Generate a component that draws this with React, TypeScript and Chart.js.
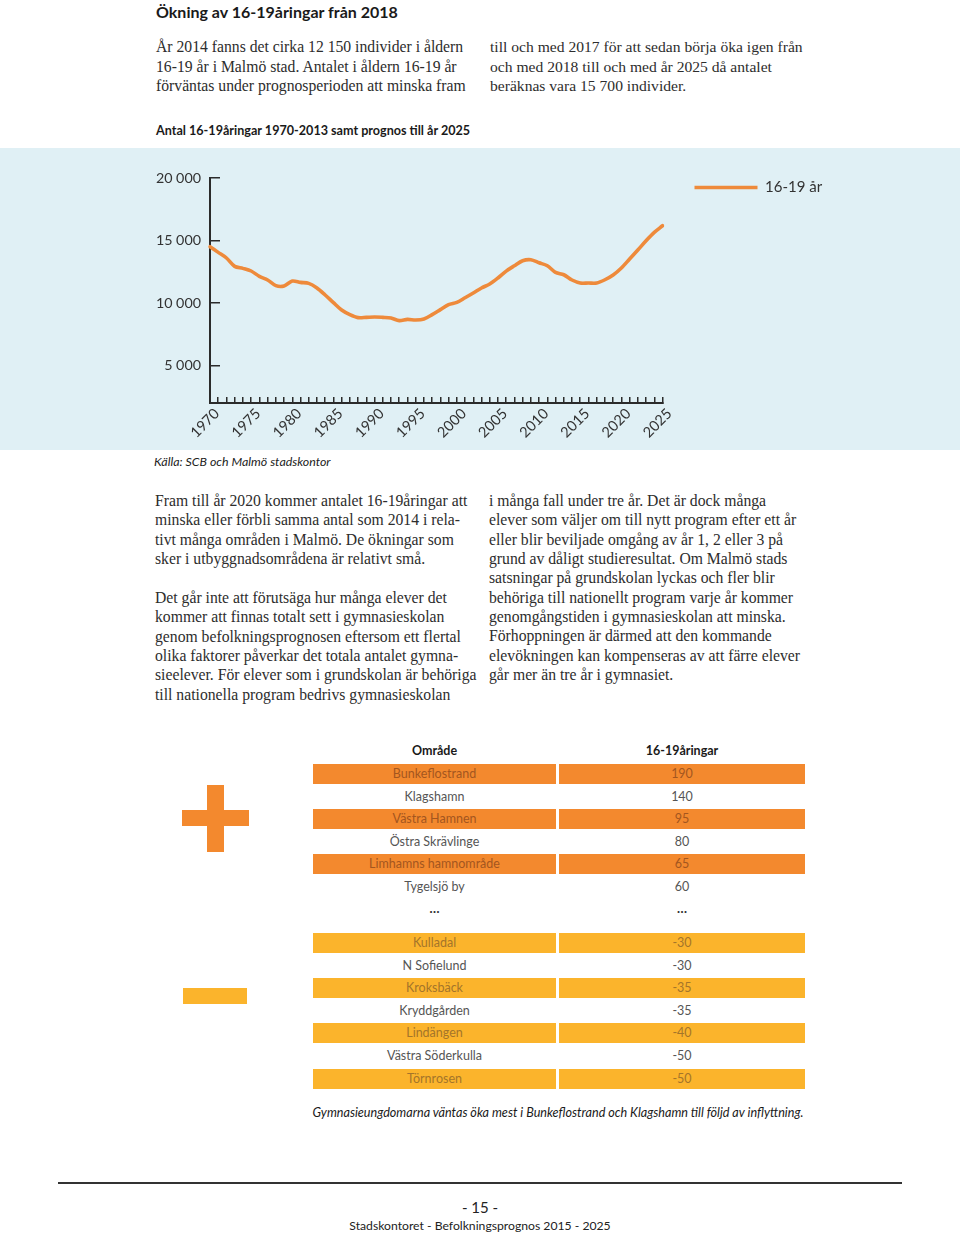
import React, { useEffect, useRef } from 'react';
import { Chart, registerables } from 'chart.js';

Chart.register(...registerables);

// ---------- data ----------
const years = [
  '1970', '1971', '1972', '1973', '1974', '1975', '1976', '1977', '1978', '1979',
  '1980', '1981', '1982', '1983', '1984', '1985', '1986', '1987', '1988', '1989',
  '1990', '1991', '1992', '1993', '1994', '1995', '1996', '1997', '1998', '1999',
  '2000', '2001', '2002', '2003', '2004', '2005', '2006', '2007', '2008', '2009',
  '2010', '2011', '2012', '2013', '2014', '2015', '2016', '2017', '2018', '2019',
  '2020', '2021', '2022', '2023', '2024', '2025',
];
const antal1619 = [
  14500, 14050, 13600, 12930, 12770, 12560, 12130, 11840, 11390, 11360,
  11760, 11650, 11570, 11200, 10640, 10030, 9440, 9070, 8830, 8850,
  8880, 8850, 8800, 8590, 8690, 8640, 8720, 9070, 9470, 9870,
  10050, 10420, 10800, 11200, 11520, 12000, 12550, 12980, 13380, 13460,
  13220, 12980, 12450, 12260, 11840, 11600, 11600, 11600, 11860, 12240,
  12800, 13520, 14240, 14980, 15650, 16180,
];
const seriesLabel = '16-19 år';
const yTickValues = [5000, 10000, 15000, 20000];
const yMin = 2000;
const yMax = 20000;

const areasUp = ['Bunkeflostrand', 'Klagshamn', 'Västra Hamnen', 'Östra Skrävlinge', 'Limhamns hamnområde', 'Tygelsjö by'];
const valuesUp = ['190', '140', '95', '80', '65', '60'];
const areasDown = ['Kulladal', 'N Sofielund', 'Kroksbäck', 'Kryddgården', 'Lindängen', 'Västra Söderkulla', 'Törnrosen'];
const valuesDown = ['-30', '-30', '-35', '-35', '-40', '-50', '-50'];

// ---------- text ----------
const introLeft = [
  'År 2014 fanns det cirka 12 150 individer i åldern',
  '16-19 år i Malmö stad. Antalet i åldern 16-19 år',
  'förväntas under prognosperioden att minska fram',
];
const introRight = [
  'till och med 2017 för att sedan börja öka igen från',
  'och med 2018 till och med år 2025 då antalet',
  'beräknas vara 15 700 individer.',
];
const bodyLeft1 = [
  'Fram till år 2020 kommer antalet 16-19åringar att',
  'minska eller förbli samma antal som 2014 i rela-',
  'tivt många områden i Malmö. De ökningar som',
  'sker i utbyggnadsområdena är relativt små.',
];
const bodyLeft2 = [
  'Det går inte att förutsäga hur många elever det',
  'kommer att finnas totalt sett i gymnasieskolan',
  'genom befolkningsprognosen eftersom ett flertal',
  'olika faktorer påverkar det totala antalet gymna-',
  'sieelever. För elever som i grundskolan är behöriga',
  'till nationella program bedrivs gymnasieskolan',
];
const bodyRight = [
  'i många fall under tre år. Det är dock många',
  'elever som väljer om till nytt program efter ett år',
  'eller blir beviljade omgång av år 1, 2 eller 3 på',
  'grund av dåligt studieresultat. Om Malmö stads',
  'satsningar på grundskolan lyckas och fler blir',
  'behöriga till nationellt program varje år kommer',
  'genomgångstiden i gymnasieskolan att minska.',
  'Förhoppningen är därmed att den kommande',
  'elevökningen kan kompenseras av att färre elever',
  'går mer än tre år i gymnasiet.',
];

const SERIF = '"Liberation Serif", "DejaVu Serif", serif';
const SANS = 'Lato, "Open Sans", sans-serif';
const ORANGE = '#f3892e';
const YELLOW = '#fbb42c';
const LINE_COLOR = '#ee8a3b';
const AXIS = '#2b2b2b';

const fmt = (v: number) => String(v).replace(/\B(?=(\d{3})+(?!\d))/g, ' ');

function TextLines(props: { x: number; y0: number; step: number; lines: string[]; size: number; lh?: number }) {
  const lh = props.lh || 20;
  return (
    <>
      {props.lines.map((t, i) => (
        <div
          key={i}
          style={{
            position: 'absolute',
            left: props.x,
            top: props.y0 + i * props.step - lh / 2,
            lineHeight: lh + 'px',
            height: lh,
            fontFamily: SERIF,
            fontSize: props.size,
            color: '#2d2d2d',
            whiteSpace: 'nowrap',
          }}
        >
          {t}
        </div>
      ))}
    </>
  );
}

function LineChart() {
  const ref = useRef<HTMLCanvasElement | null>(null);
  useEffect(() => {
    if (!ref.current) return;
    const chart = new Chart(ref.current, {
      type: 'line',
      data: {
        labels: years,
        datasets: [
          {
            label: seriesLabel,
            data: antal1619,
            borderColor: LINE_COLOR,
            backgroundColor: LINE_COLOR,
            borderWidth: 3.6,
            borderCapStyle: 'round',
            borderJoinStyle: 'round',
            pointRadius: 0,
            tension: 0.3,
            fill: false,
          },
        ],
      },
      options: {
        animation: false,
        responsive: false,
        layout: { padding: { top: 30, right: 129, bottom: 0, left: 0 } },
        plugins: {
          legend: {
            position: 'right',
            align: 'start',
            labels: {
              usePointStyle: true,
              pointStyle: 'line',
              pointStyleWidth: 63,
              padding: 2,
              color: '#333',
              font: { family: 'Lato', size: 15 },
            },
          },
          tooltip: { enabled: false },
        },
        scales: {
          x: {
            type: 'category',
            grid: { display: true, drawOnChartArea: false, drawTicks: true, tickLength: -6, color: AXIS, lineWidth: 1.5 },
            border: { display: true, color: AXIS, width: 2 },
            ticks: {
              autoSkip: false,
              minRotation: 45,
              maxRotation: 45,
              padding: 8,
              labelOffset: 7,
              color: '#333',
              font: { family: 'Lato', size: 14.6 },
              callback: (_v: any, i: number) => (i % 5 === 0 ? years[i] : ''),
            },
            afterFit: (s: any) => {
              s.height = 47;
            },
          },
          y: {
            type: 'linear',
            position: 'left',
            min: yMin,
            max: yMax,
            grid: { display: true, drawOnChartArea: false, drawTicks: true, tickLength: -10, color: AXIS, lineWidth: 1.5 },
            border: { display: true, color: AXIS, width: 2 },
            ticks: {
              padding: 19,
              color: '#333',
              font: { family: 'Lato', size: 14.3 },
              callback: (v: any) => fmt(Number(v)),
            },
            afterBuildTicks: (s: any) => {
              s.ticks = yTickValues.map((v) => ({ value: v }));
            },
            afterFit: (s: any) => {
              s.width = 210;
            },
          },
          spacer: {
            type: 'linear',
            position: 'right',
            display: true,
            grid: { display: false },
            border: { display: false },
            ticks: { display: false },
            afterFit: (s: any) => {
              s.width = 30;
            },
          },
        },
      } as any,
    });
    return () => chart.destroy();
  }, []);
  return <canvas ref={ref} width={960} height={302} style={{ display: 'block', width: 960, height: 302 }} />;
}

function TableRows(props: { names: string[]; vals: string[]; y0: number; color: string; textOn: string }) {
  const step = 22.6;
  return (
    <>
      {props.names.map((n, i) => {
        const cy = props.y0 + i * step;
        const filled = i % 2 === 0;
        const cell = (left: number, width: number, text: string) => (
          <div
            style={{
              position: 'absolute',
              left,
              top: cy - 10,
              width,
              height: 20,
              lineHeight: '20px',
              background: filled ? props.color : 'transparent',
              color: filled ? props.textOn : '#555',
              fontFamily: SANS,
              fontSize: 12.5,
              textAlign: 'center',
              whiteSpace: 'nowrap',
            }}
          >
            {text}
          </div>
        );
        return (
          <React.Fragment key={i}>
            {cell(313, 243, n)}
            {cell(559, 246, props.vals[i])}
          </React.Fragment>
        );
      })}
    </>
  );
}

export default function App() {
  useEffect(() => {
    document.body.style.margin = '0';
  }, []);
  const abs = (o: any) => ({ position: 'absolute' as const, ...o });
  return (
    <div style={{ position: 'absolute', left: 0, top: 0, width: 960, height: 1233, background: '#fff', overflow: 'hidden' }}>
      <div style={abs({ left: 156, top: 2, lineHeight: '20px', fontFamily: SANS, fontWeight: 700, fontSize: 16, color: '#1a1a1a', whiteSpace: 'nowrap' })}>
        Ökning av 16-19åringar från 2018
      </div>

      <TextLines x={156} y0={47} step={19.5} lines={introLeft} size={15.7} />
      <TextLines x={490} y0={47} step={19.5} lines={introRight} size={15.6} />

      <div style={abs({ left: 156, top: 123, lineHeight: '16px', fontFamily: SANS, fontWeight: 700, fontSize: 12.6, color: '#1a1a1a', whiteSpace: 'nowrap' })}>
        Antal 16-19åringar 1970-2013 samt prognos till år 2025
      </div>

      <div style={abs({ left: 0, top: 148, width: 960, height: 302, background: '#e0f0f5' })}>
        <LineChart />
      </div>

      <div style={abs({ left: 154, top: 454, lineHeight: '16px', fontFamily: SANS, fontStyle: 'italic', fontSize: 12.4, color: '#222', whiteSpace: 'nowrap' })}>
        Källa: SCB och Malmö stadskontor
      </div>

      <TextLines x={155} y0={501} step={19.4} lines={bodyLeft1} size={15.7} />
      <TextLines x={155} y0={598} step={19.3} lines={bodyLeft2} size={15.7} />
      <TextLines x={489} y0={501} step={19.35} lines={bodyRight} size={15.7} />

      {/* table header */}
      <div style={abs({ left: 313, top: 743, width: 243, lineHeight: '16px', textAlign: 'center', fontFamily: SANS, fontWeight: 700, fontSize: 12.5, color: '#1a1a1a' })}>
        Område
      </div>
      <div style={abs({ left: 559, top: 743, width: 246, lineHeight: '16px', textAlign: 'center', fontFamily: SANS, fontWeight: 700, fontSize: 12.5, color: '#1a1a1a' })}>
        16-19åringar
      </div>

      <TableRows names={areasUp} vals={valuesUp} y0={774} color={ORANGE} textOn="#a3561f" />
      <div style={abs({ left: 313, top: 900, width: 243, lineHeight: '16px', textAlign: 'center', fontFamily: SANS, fontWeight: 700, fontSize: 13, color: '#333' })}>…</div>
      <div style={abs({ left: 559, top: 900, width: 246, lineHeight: '16px', textAlign: 'center', fontFamily: SANS, fontWeight: 700, fontSize: 13, color: '#333' })}>…</div>
      <TableRows names={areasDown} vals={valuesDown} y0={943} color={YELLOW} textOn="#a4752a" />

      {/* plus / minus signs */}
      <div style={abs({ left: 207, top: 785, width: 17, height: 67, background: ORANGE })} />
      <div style={abs({ left: 182, top: 810, width: 67, height: 16, background: ORANGE })} />
      <div style={abs({ left: 183, top: 988, width: 64, height: 16, background: YELLOW })} />

      <div style={abs({ left: 258, top: 1105, width: 600, lineHeight: '16px', textAlign: 'center', fontFamily: SANS, fontStyle: 'italic', fontSize: 12.6, color: '#1a1a1a', whiteSpace: 'nowrap' })}>
        Gymnasieungdomarna väntas öka mest i Bunkeflostrand och Klagshamn till följd av inflyttning.
      </div>

      {/* footer */}
      <div style={abs({ left: 58, top: 1182, width: 844, height: 2, background: '#333' })} />
      <div style={abs({ left: 380, top: 1198, width: 200, lineHeight: '18px', textAlign: 'center', fontFamily: SANS, fontSize: 15, color: '#222' })}>- 15 -</div>
      <div style={abs({ left: 280, top: 1218, width: 400, lineHeight: '16px', textAlign: 'center', fontFamily: SANS, fontSize: 12.2, color: '#222', whiteSpace: 'nowrap' })}>
        Stadskontoret - Befolkningsprognos 2015 - 2025
      </div>
    </div>
  );
}
